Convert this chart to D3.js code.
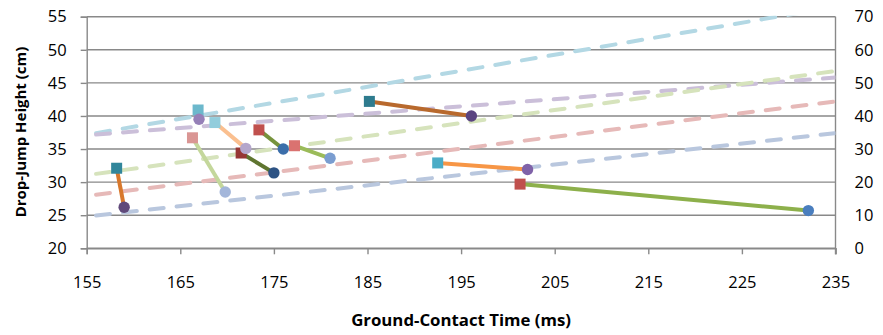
<!DOCTYPE html>
<html>
<head>
<meta charset="utf-8">
<script src="https://cdn.jsdelivr.net/npm/d3@7"></script>
<style>
    body { margin: 0; background: #fff; }
    svg { font-family: "Open Sans", "Liberation Sans", sans-serif; }
    .tick text { font-size: 16.5px; fill: #000; }
    .title { font-weight: bold; fill: #000; }
</style>
</head>
<body>
<svg width="883" height="335"></svg>
<script>
// contact time (ms) and jump height (cm): square = before, circle = after
var startTime = [158.2, 166.3, 166.9, 168.7, 171.5, 173.4, 177.2, 185.2, 192.5, 201.3];
var startHeight = [32.1, 36.7, 40.9, 39.0, 34.4, 37.9, 35.5, 42.2, 32.9, 29.7];
var endTime = [159.0, 169.8, 167.0, 172.0, 175.0, 176.0, 181.0, 196.1, 202.1, 232.1];
var endHeight = [26.2, 28.5, 39.5, 35.1, 31.4, 35.0, 33.6, 40.0, 31.9, 25.7];

var squareColors = ["#31869b", "#da9694", "#6cb8cc", "#92cddc", "#963634", "#c0504d", "#da7270", "#2e7b8e", "#4bacc6", "#c0504d"];
var lineColors = ["#d8782c", "#c4d79b", "#b1a0c7", "#fabf8f", "#5f7530", "#76933c", "#9bbb59", "#b8692d", "#f79646", "#8db04b"];
var circleColors = ["#60497a", "#a3b6da", "#9680b8", "#b4a6cb", "#2d5384", "#3b6eaa", "#7a9dd0", "#5b4581", "#7f62a8", "#4a7ebe"];

// dashed reference lines, secondary axis
var refTime = [156, 235];
var refStart = [34.8, 34.4, 22.5, 16.2, 9.9];
var refEnd = [73.0, 51.6, 53.6, 44.4, 34.8];
var refColors = ["#b3d8e4", "#cbbfd9", "#d6e3bc", "#e6b9b8", "#b9c7de"];

var xTicks = [155, 165, 175, 185, 195, 205, 215, 225, 235];
var yTicks = [20, 25, 30, 35, 40, 45, 50, 55];
var y2Ticks = [0, 10, 20, 30, 40, 50, 60, 70];

var plotLeft = 86.7, plotRight = 835.5, plotTop = 16.7, plotBottom = 248.3;

var svg = d3.select("svg");
var x = d3.scaleLinear().domain([155, 235]).range([plotLeft, plotRight]);
var y = d3.scaleLinear().domain([20, 55]).range([plotBottom, plotTop]);
var y2 = d3.scaleLinear().domain([0, 70]).range([plotBottom, plotTop]);

svg.append("clipPath")
    .attr("id", "plot")
    .append("rect")
    .attr("x", plotLeft)
    .attr("y", plotTop - 1)
    .attr("width", plotRight - plotLeft)
    .attr("height", plotBottom - plotTop + 1);

// gridlines
svg.append("g")
    .selectAll("line")
    .data(yTicks)
    .join("line")
    .attr("x1", plotLeft)
    .attr("x2", plotRight)
    .attr("y1", function (d) { return y(d); })
    .attr("y2", function (d) { return y(d); })
    .attr("stroke", "#898989")
    .attr("stroke-width", 1.4);

// axes
var xAxis = svg.append("g")
    .attr("transform", "translate(0," + plotBottom + ")")
    .call(d3.axisBottom(x).tickValues(xTicks).tickSize(6).tickPadding(22).tickFormat(d3.format("d")));
var yAxis = svg.append("g")
    .attr("transform", "translate(" + plotLeft + ",0)")
    .call(d3.axisLeft(y).tickValues(yTicks).tickSize(6).tickPadding(14).tickFormat(d3.format("d")));
var y2Axis = svg.append("g")
    .attr("transform", "translate(" + plotRight + ",0)")
    .call(d3.axisRight(y2).tickValues(y2Ticks).tickSize(0).tickPadding(19).tickFormat(d3.format("d")));

[xAxis, yAxis, y2Axis].forEach(function (a) {
    a.select(".domain").attr("stroke", "#898989").attr("stroke-width", 1.4);
    a.selectAll(".tick line").attr("stroke", "#898989").attr("stroke-width", 1.4);
    a.selectAll(".tick text").attr("font-family", "'Open Sans', sans-serif");
});
y2Axis.select(".domain").attr("d", "M0," + plotTop + "V" + (plotBottom + 6));

var plot = svg.append("g").attr("clip-path", "url(#plot)");

plot.selectAll("line.ref")
    .data(refStart)
    .join("line")
    .attr("class", "ref")
    .attr("x1", x(refTime[0]))
    .attr("x2", x(refTime[1]))
    .attr("y1", function (d) { return y2(d); })
    .attr("y2", function (d, i) { return y2(refEnd[i]); })
    .attr("stroke", function (d, i) { return refColors[i]; })
    .attr("stroke-width", 4)
    .attr("stroke-linecap", "round")
    .attr("stroke-dasharray", "14,13");

var pairs = svg.append("g");
pairs.selectAll("line")
    .data(startTime)
    .join("line")
    .attr("x1", function (d) { return x(d); })
    .attr("y1", function (d, i) { return y(startHeight[i]); })
    .attr("x2", function (d, i) { return x(endTime[i]); })
    .attr("y2", function (d, i) { return y(endHeight[i]); })
    .attr("stroke", function (d, i) { return lineColors[i]; })
    .attr("stroke-width", 4);

pairs.selectAll("rect")
    .data(startTime)
    .join("rect")
    .attr("x", function (d) { return x(d) - 5.5; })
    .attr("y", function (d, i) { return y(startHeight[i]) - 5.5; })
    .attr("width", 11)
    .attr("height", 11)
    .attr("fill", function (d, i) { return squareColors[i]; });

pairs.selectAll("circle")
    .data(endTime)
    .join("circle")
    .attr("cx", function (d) { return x(d); })
    .attr("cy", function (d, i) { return y(endHeight[i]); })
    .attr("r", 5.7)
    .attr("fill", function (d, i) { return circleColors[i]; });

// axis titles
svg.append("text")
    .attr("class", "title")
    .attr("x", (plotLeft + plotRight) / 2)
    .attr("y", 326)
    .attr("font-size", "16.8px")
    .attr("text-anchor", "middle")
    .text("Ground-Contact Time (ms)");

svg.append("text")
    .attr("class", "title")
    .attr("font-size", "15px")
    .attr("transform", "translate(25.5,132) rotate(-90)")
    .attr("text-anchor", "middle")
    .text("Drop-Jump Height (cm)");
</script>
</body>
</html>
